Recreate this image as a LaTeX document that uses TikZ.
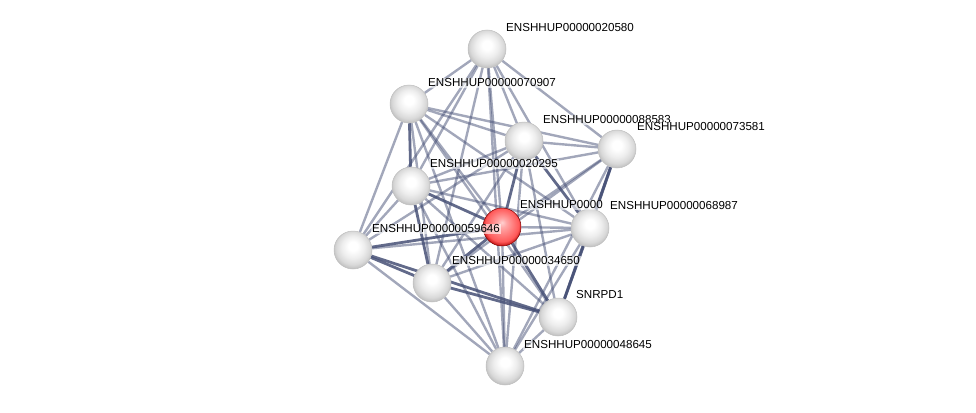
\documentclass[tikz,border=0pt]{standalone}
\usepackage{fontspec}
\setmainfont{Liberation Sans}
\usetikzlibrary{backgrounds}
\definecolor{edgeblue}{RGB}{70,80,118}
\pgfdeclareradialshading{protball}{\pgfpoint{0bp}{6bp}}{%
  color(0bp)=(white); color(6bp)=(white); color(15bp)=(gray!14);
  color(22bp)=(gray!30); color(28bp)=(gray!55); color(40bp)=(gray!60)}
\pgfdeclareradialshading{queryball}{\pgfpoint{0bp}{6bp}}{%
  color(0bp)=(red!18); color(6bp)=(red!35); color(15bp)=(red!52);
  color(22bp)=(red!65); color(28bp)=(red!70!black); color(40bp)=(red!60!black)}

\begin{document}
\begin{tikzpicture}[x=1pt, y=-1pt,
  prot/.style ={circle, minimum size=38pt, inner sep=0pt, shading=protball,
                draw=gray!50, line width=0.5pt},
  query/.style={prot, shading=queryball, draw=red!50!black},
  lbl/.style  ={font=\fontsize{11.6}{13}\selectfont, anchor=west, inner sep=1pt,
                fill=white, fill opacity=0.6, text opacity=1},
  edge/.style ={line width=2.4pt, draw=edgeblue, draw opacity=0.5},
  tight/.style={line width=2.8pt, draw=edgeblue, draw opacity=0.85},
]
\useasboundingbox (0,0) rectangle (976,412);

%% ---- Proteins ----
\node[prot]  (a) at (487, 49) {};
\node[prot]  (b) at (409,104) {};
\node[prot]  (c) at (524,141) {};
\node[prot]  (d) at (617,149) {};
\node[prot]  (e) at (411,186) {};
\node[query] (f) at (502,227) {};
\node[prot]  (g) at (590,228) {};
\node[prot]  (h) at (353,250) {};
\node[prot]  (i) at (432,283) {};
\node[prot]  (j) at (558,317) {};
\node[prot]  (k) at (505,366) {};

%% ---- Interactions (behind the balls) ----
\begin{scope}[on background layer]
\foreach \u/\v in {a/b,a/c,a/d,a/e,a/f,a/h,a/i,a/g,a/k,
                   b/c,b/d,b/f,b/h,b/i,b/g,b/k,b/j,
                   c/d,c/e,c/h,c/i,c/j,c/k,
                   d/e,d/f,d/i,d/k,
                   e/g,e/h,e/j,e/k,
                   f/g,f/k,
                   g/h,g/i,g/k,
                   h/k,i/k,j/k}
  \draw[edge] (\u) -- (\v);
\foreach \u/\v in {b/e,c/f,c/g,d/g,d/j,e/f,e/i,f/h,f/i,f/j,g/j,h/i,h/j,i/j}
  \draw[tight] (\u) -- (\v);
\end{scope}

%% ---- Labels ----
\node[lbl] (la) at ([shift={(18,-21)}]a) {ENSHHUP00000020580};
\node[lbl] (lb) at ([shift={(18,-21)}]b) {ENSHHUP00000070907};
\node[lbl] (lc) at ([shift={(18,-21)}]c) {ENSHHUP00000088583};
\node[lbl] (ld) at ([shift={(19,-22)}]d) {ENSHHUP00000073581};
\node[lbl] (le) at ([shift={(18,-22)}]e) {ENSHHUP00000020295};
\node[lbl] (lf) at ([shift={(17,-22)}]f) {ENSHHUP0000};
\node[lbl] (lg) at ([shift={(19,-22)}]g) {ENSHHUP00000068987};
\node[lbl] (lh) at ([shift={(18,-21)}]h) {ENSHHUP00000059646};
\node[lbl] (li) at ([shift={(19,-22)}]i) {ENSHHUP00000034650};
\node[lbl] (lj) at ([shift={(17,-22)}]j) {SNRPD1};
\node[lbl] (lk) at ([shift={(18,-21)}]k) {ENSHHUP00000048645};

\end{tikzpicture}
\end{document}
